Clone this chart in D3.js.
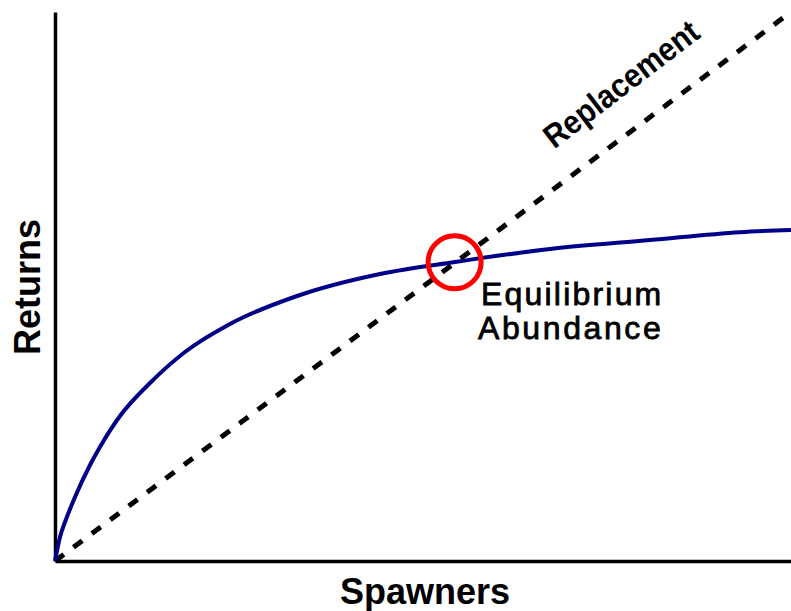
<!DOCTYPE html>
<html>
<head>
<meta charset="utf-8">
<title>Spawner-Recruit Curve</title>
<style>
  body { margin: 0; background: #fff; }
  svg { display: block; }
</style>
<script src="https://d3js.org/d3.v7.min.js"></script>
</head>
<body>
<svg width="791" height="611"></svg>
<script>
// recruitment curve (spawners, returns), both 0-100
var spawners = [0, 0.68, 1.36, 2.72, 4.76, 6.11, 8.83, 12.91, 17.66, 23.78, 33.29, 44.16, 54.35, 67.26, 80.84, 93.07, 100];
var returns  = [0, 4.37, 7.10, 11.66, 17.49, 20.77, 26.41, 32.42, 38.07, 43.17, 48.45, 52.28, 54.46, 56.83, 58.45, 59.9, 60.3];
// 1:1 replacement line
var replaceX = [0, 100];
var replaceY = [0, 100];
// equilibrium point
var equilibrium = [54.3, 54.4];

var svg = d3.select("svg"),
    margin = {top: 12, right: 0, bottom: 50, left: 55},
    width = +svg.attr("width") - margin.left - margin.right,
    height = +svg.attr("height") - margin.top - margin.bottom;

var x = d3.scaleLinear().domain([0, 100]).range([margin.left, margin.left + width]);
var y = d3.scaleLinear().domain([0, 100]).range([margin.top + height, margin.top]);

// axes, plain lines without ticks
svg.append("g")
    .attr("transform", `translate(0,${y(0)})`)
    .call(d3.axisBottom(x).ticks(0).tickSizeOuter(0))
    .call(g => g.select(".domain").attr("stroke", "#000").attr("stroke-width", 3.5));
svg.append("g")
    .attr("transform", `translate(${x(0)},0)`)
    .call(d3.axisLeft(y).ticks(0).tickSizeOuter(0))
    .call(g => g.select(".domain").attr("stroke", "#000").attr("stroke-width", 3.5));

var line = d3.line().x(d => x(d[0])).y(d => y(d[1]));

// replacement line
svg.append("path")
    .datum(d3.zip(replaceX, replaceY))
    .attr("d", line)
    .attr("fill", "none")
    .attr("stroke", "#000")
    .attr("stroke-width", 5)
    .attr("stroke-dasharray", "11,12");

// curve
svg.append("path")
    .datum(d3.zip(spawners, returns))
    .attr("d", line.curve(d3.curveMonotoneX))
    .attr("fill", "none")
    .attr("stroke", "#000088")
    .attr("stroke-width", 4);

// circle on the equilibrium
svg.append("circle")
    .attr("cx", x(equilibrium[0]))
    .attr("cy", y(equilibrium[1]))
    .attr("r", 26.5)
    .attr("fill", "none")
    .attr("stroke", "#ff0000")
    .attr("stroke-width", 5);

svg.append("text")
    .attr("x", 481).attr("y", 305)
    .style("font", "32px Arial, 'Liberation Sans', sans-serif")
    .style("letter-spacing", "2.2px")
    .style("stroke", "#000").style("stroke-width", 0.8)
    .text("Equilibrium");
svg.append("text")
    .attr("x", 478).attr("y", 339)
    .style("font", "32px Arial, 'Liberation Sans', sans-serif")
    .style("letter-spacing", "2.6px")
    .style("stroke", "#000").style("stroke-width", 0.8)
    .text("Abundance");

svg.append("text")
    .attr("transform", "translate(628,93) rotate(-37.5)")
    .attr("text-anchor", "middle")
    .attr("textLength", 186)
    .attr("lengthAdjust", "spacingAndGlyphs")
    .style("font", "bold 33px Arial, 'Liberation Sans', sans-serif")
    .text("Replacement");

// axis titles
svg.append("text")
    .attr("x", 425).attr("y", 604)
    .attr("text-anchor", "middle")
    .style("font", "bold 36px Arial, 'Liberation Sans', sans-serif")
    .text("Spawners");
svg.append("text")
    .attr("transform", "translate(40,287) rotate(-90)")
    .attr("text-anchor", "middle")
    .style("font", "bold 36px Arial, 'Liberation Sans', sans-serif")
    .text("Returns");
</script>
</body>
</html>
